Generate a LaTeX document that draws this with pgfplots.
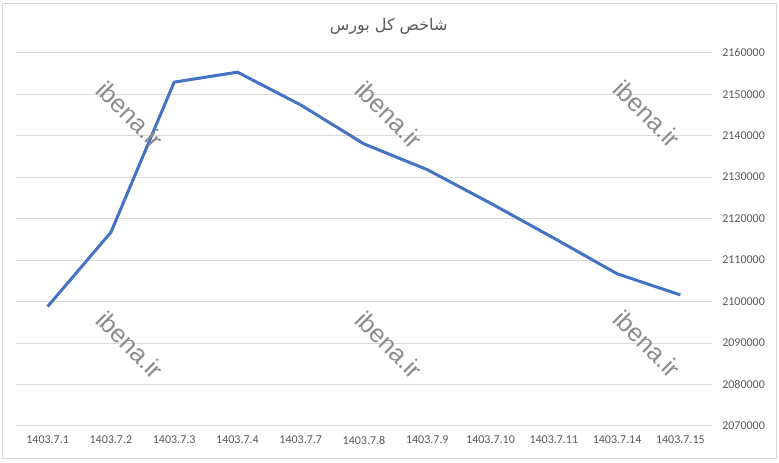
\documentclass[border=0pt]{standalone}
\usepackage{pgfplots}
\pgfplotsset{compat=1.18}
\usepackage{fontspec}
\setmainfont{Carlito}
\newfontfamily\arabicfont[Script=Arabic]{DejaVu Sans}
\newfontfamily\wmfont{Liberation Sans}
\TeXXeTstate=1
\definecolor{exblue}{HTML}{4472C4}
\definecolor{gridgray}{HTML}{D9D9D9}
\definecolor{lbl}{HTML}{595959}
\begin{document}
\begin{tikzpicture}
% picture frame, 1px = 0.75pt (779 x 463 px)
\path (0pt,0pt) rectangle (584.25pt,347.25pt);
\draw[gridgray, line width=0.75pt] (1.9pt,3pt) rectangle (582.4pt,344.3pt);

\begin{axis}[
  at={(12pt,27.75pt)}, anchor=south west,
  scale only axis,
  width=522pt, height=280pt,
  xmin=-0.5, xmax=10.5,
  ymin=2070000, ymax=2160000,
  ytick={2070000,2080000,2090000,2100000,2110000,2120000,2130000,2140000,2150000,2160000},
  axis line style={draw=none},
  tick style={draw=none},
  ymajorgrids, xmajorgrids=false,
  grid style={draw=gridgray, line width=0.75pt},
  xtick=data,
  xticklabels={1403.7.1,1403.7.2,1403.7.3,1403.7.4,1403.7.7,1403.7.8,1403.7.9,1403.7.10,1403.7.11,1403.7.14,1403.7.15},
  major tick length=0pt,
  yticklabel pos=right,
  scaled y ticks=false,
  /pgf/number format/assume math mode=true,
  /pgf/number format/fixed,
  /pgf/number format/precision=0,
  /pgf/number format/1000 sep={},
  ticklabel style={font=\fontsize{9}{10}\selectfont, text=lbl},
  xticklabel style={yshift=-4pt},
  yticklabel style={anchor=west, inner sep=0pt, xshift=7.5pt},
  clip=false,
]
\addplot[exblue, line width=2.25pt, line join=round] coordinates {
  (0,2098800) (1,2116700) (2,2152900) (3,2155300) (4,2147400)
  (5,2138000) (6,2131800) (7,2123700) (8,2115300) (9,2106700) (10,2101600)
};
\end{axis}

% title
\node[font=\arabicfont\fontsize{12}{14}\selectfont, text=lbl] at (291.5pt,327.5pt) {\beginR شاخص کل بورس\endR};

% watermarks
\foreach \px/\py in {97.5/261, 291.75/261, 485.25/261.75, 97.5/88.5, 291.75/88.5, 485.25/89.25}
  \node[font=\wmfont\fontsize{19}{20}\selectfont, text=black!45, rotate=-45] at (\px pt,\py pt) {ibena.ir};
\end{tikzpicture}
\end{document}
